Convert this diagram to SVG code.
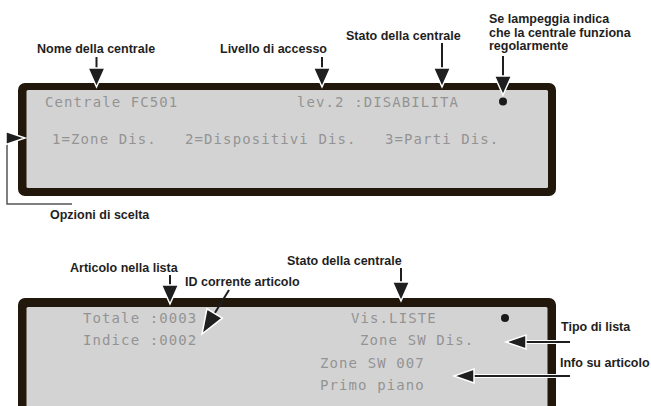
<svg xmlns="http://www.w3.org/2000/svg" width="651" height="406" viewBox="0 0 651 406">
<defs>
<style>
.frame{fill:#21170b}
.screen{fill:#d3d3d3}
.lcd{font-family:"DejaVu Sans Mono","Liberation Mono",monospace;font-size:14px;fill:#939393;letter-spacing:1.1px}
.lbl{font-family:"Liberation Sans",Arial,sans-serif;font-size:12.5px;font-weight:bold;fill:#1f1f1f}
.shaft{stroke:#1f1f1f;stroke-width:2;fill:none}
.halo{stroke:#ffffff;stroke-width:4;fill:none}
.head{fill:#1f1f1f;stroke:#ffffff;stroke-width:1.5;stroke-linejoin:miter}
.brk{stroke:#555555;stroke-width:1.5;fill:none}
.dot{fill:#1a1a1a}
</style>
</defs>
<rect width="651" height="406" fill="#ffffff"/>

<g id="lcd-top">
<rect class="frame" x="18" y="83" width="538" height="113" rx="7"/>
<rect class="screen" x="26.5" y="90" width="521.5" height="98" rx="1.5"/>
<text class="lcd" x="45" y="107">Centrale FC501</text>
<text class="lcd" x="297" y="107">lev.2 :DISABILITA</text>
<circle class="dot" cx="503" cy="101.5" r="4"/>
<text class="lcd" x="52" y="144">1=Zone Dis.</text>
<text class="lcd" x="185" y="144">2=Dispositivi Dis.</text>
<text class="lcd" x="385" y="144">3=Parti Dis.</text>
</g>

<g id="lcd-bottom">
<rect class="frame" x="18" y="298" width="538" height="130" rx="7"/>
<rect class="screen" x="26.5" y="307" width="521" height="110" rx="1.5"/>
<text class="lcd" x="83" y="323">Totale :0003</text>
<text class="lcd" x="83" y="345">Indice :0002</text>
<text class="lcd" x="351" y="323">Vis.LISTE</text>
<text class="lcd" x="360" y="345">Zone SW Dis.</text>
<text class="lcd" x="320" y="368">Zone SW 007</text>
<text class="lcd" x="320" y="390">Primo piano</text>
<circle class="dot" cx="505" cy="318" r="4"/>
</g>

<g id="labels">
<text class="lbl" x="37" y="53">Nome della centrale</text>
<text class="lbl" x="220" y="53">Livello di accesso</text>
<text class="lbl" x="346" y="40">Stato della centrale</text>
<text class="lbl" x="489" y="23">Se lampeggia indica</text>
<text class="lbl" x="489" y="36.5">che la centrale funziona</text>
<text class="lbl" x="489" y="50">regolarmente</text>
<text class="lbl" x="50" y="219">Opzioni di scelta</text>
<text class="lbl" x="70" y="272">Articolo nella lista</text>
<text class="lbl" x="185" y="286">ID corrente articolo</text>
<text class="lbl" x="287" y="265">Stato della centrale</text>
<text class="lbl" x="561" y="331">Tipo di lista</text>
<text class="lbl" x="560" y="367">Info su articolo</text>
</g>

<g id="connectors">
<line class="shaft" x1="96.5" y1="57" x2="96.5" y2="70"/>
<polygon class="head" points="88,68 105,68 96.5,87"/>
<line class="shaft" x1="322" y1="57" x2="322" y2="70"/>
<polygon class="head" points="313.5,68 330.5,68 322,87"/>
<line class="shaft" x1="442" y1="43" x2="442" y2="70"/>
<polygon class="head" points="433.5,68 450.5,68 442,87"/>
<line class="shaft" x1="503" y1="56" x2="503" y2="78"/>
<polygon class="head" points="494.5,76 511.5,76 503,95"/>
<line class="shaft" x1="170" y1="275" x2="170" y2="287"/>
<polygon class="head" points="161.5,285 178.5,285 170,304"/>
<line class="shaft" x1="401" y1="268" x2="401" y2="284"/>
<polygon class="head" points="392.5,282 409.5,282 401,301"/>
<line class="shaft" x1="229" y1="290" x2="213" y2="316"/>
<polygon class="head" points="222.3,318.2 206.9,308.8 202,334"/>
<line class="halo" x1="522" y1="342" x2="570" y2="342"/>
<line class="shaft" x1="522" y1="342" x2="570" y2="342"/>
<polygon class="head" points="526,335 526,349 506,342"/>
<line class="halo" x1="471" y1="376" x2="570" y2="376"/>
<line class="shaft" x1="471" y1="376" x2="570" y2="376"/>
<polygon class="head" points="474,369 474,383 454,376"/>
<polyline class="brk" points="7,142 7,204 72,204"/>
<polygon class="head" points="6,131.5 6,144.5 25,138"/>
</g>
</svg>
